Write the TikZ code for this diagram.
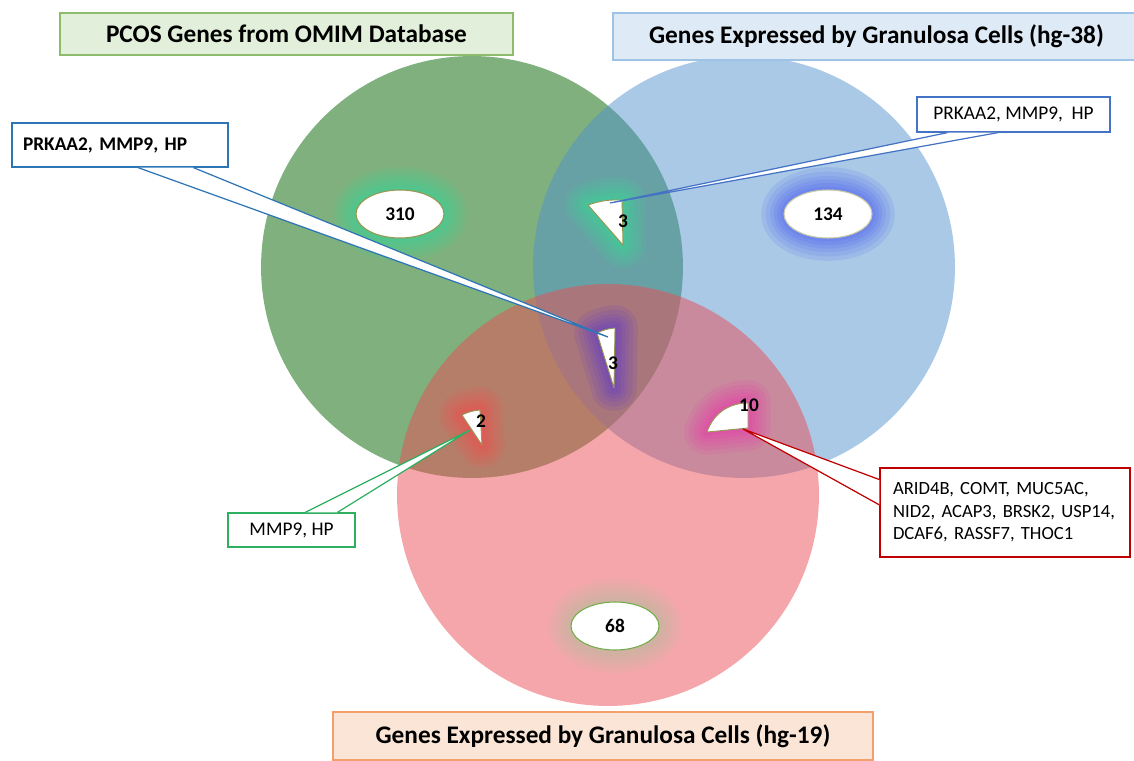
\documentclass[tikz,border=0pt]{standalone}
\usepackage{fontspec}
\setmainfont{Carlito}
\usetikzlibrary{shapes.geometric,calc}

\definecolor{setgreen}{RGB}{127,176,125}
\definecolor{setblue}{RGB}{83,147,205}
\definecolor{setpink}{RGB}{235,77,85}
\definecolor{glowteal}{RGB}{60,212,150}
\definecolor{glowblue}{RGB}{80,100,240}
\definecolor{glowkhaki}{RGB}{190,186,160}
\definecolor{glowpurple}{RGB}{100,60,200}
\definecolor{glowred}{RGB}{240,80,80}
\definecolor{glowpink}{RGB}{230,60,170}
\definecolor{edgeolive}{RGB}{150,150,80}
\definecolor{edgegreen}{RGB}{112,173,71}
\definecolor{lineblue}{RGB}{46,117,182}
\definecolor{lineblue2}{RGB}{68,114,196}
\definecolor{linegreen}{RGB}{46,176,96}
\definecolor{linered}{RGB}{192,0,0}
\definecolor{titlegreen}{RGB}{226,239,218}
\definecolor{titleblue}{RGB}{222,235,247}
\definecolor{titlepeach}{RGB}{251,229,214}
\definecolor{edgeblue}{RGB}{157,195,230}
\definecolor{edgeorange}{RGB}{244,160,110}

\begin{document}
\frenchspacing
\begin{tikzpicture}[x=0.02cm, y=-0.02cm,
  set/.style={circle, fill=#1, minimum size=8.44cm, inner sep=0pt},
  title/.style={rectangle, line width=1pt, inner sep=0pt, font=\fontsize{14.4}{17}\selectfont\bfseries},
  count/.style={ellipse, draw=edgeolive, fill=white, line width=0.6pt, minimum width=1.76cm, minimum height=0.96cm, inner sep=0pt, font=\fontsize{11}{12}\selectfont\bfseries},
  glow/.style={preaction={draw=#1, draw opacity=0.14, line width=26pt, line join=round},
               preaction={draw=#1, draw opacity=0.14, line width=21pt, line join=round},
               preaction={draw=#1, draw opacity=0.14, line width=16pt, line join=round},
               preaction={draw=#1, draw opacity=0.16, line width=12pt, line join=round},
               preaction={draw=#1, draw opacity=0.18, line width=8pt, line join=round},
               preaction={draw=#1, draw opacity=0.2, line width=4pt, line join=round}},
  wedge/.style={draw=edgeolive, fill=white, line width=0.5pt, line join=round},
  num/.style={inner sep=0pt, font=\fontsize{11}{12}\selectfont\bfseries},
  callout/.style={rectangle, draw=#1, fill=white, line width=0.7pt, inner sep=0pt, font=\fontsize{11}{12.8}\selectfont},
  tail/.style={draw=#1, fill=white, line width=0.7pt}
]
\useasboundingbox (0,0) rectangle (1134,761);

% the three sets
\node[set=setgreen] (omim) at (472,267) {};
\node[set=setblue, fill opacity=0.5] (hg38) at (744,267) {};
\node[set=setpink, fill opacity=0.5] (hg19) at (608,495) {};

% counts
\node[count, glow=glowteal] (n310) at (400,214) {310};
\node[count, glow=glowblue, draw=edgeolive!50] (n134) at (828,214) {134};
\node[count, glow=glowkhaki, draw=edgegreen] (n68) at (615,626) {68};

\draw[wedge, glow=glowteal] (623,245) -- (588,205) to[bend left=10] (622,200) -- cycle;
\node[num] (n3top) at (623,221) {3};
\draw[wedge, glow=glowpurple] (614,388) -- (597,333) to[bend left=10] (615,328) -- cycle;
\node[num] (n3mid) at (613,363) {3};
\draw[wedge, glow=glowred] (482,445) -- (462,415) to[bend left=10] (480,410) -- cycle;
\node[num] (n2) at (481,421) {2};
\draw[wedge, glow=glowpink] (748,428) -- (707,432) to[bend left=35] (748,403) -- cycle;
\node[num] (n10) at (749,405) {10};

\coordinate (tiptop) at (610,203);
\coordinate (tipmid) at (608,337);
\coordinate (tiptwo) at (470,430);
\coordinate (tipten) at (743,429);

% titles
\node[title, fill=titlegreen, draw=edgegreen!80, minimum width=9.06cm, minimum height=0.84cm] (omimtitle) at (286.5,34) {PCOS Genes from OMIM Database};
\node[title, fill=titleblue, draw=edgeblue, minimum width=10.54cm, minimum height=0.94cm] (hg38title) at (876.5,36.5) {Genes Expressed by Granulosa Cells (hg-38)};
\node[title, fill=titlepeach, draw=edgeorange, minimum width=10.8cm, minimum height=0.96cm] (hg19title) at (603,736) {Genes Expressed by Granulosa Cells (hg-19)};

% callouts
\node[callout=lineblue, font=\fontsize{11}{12.8}\selectfont\bfseries, text width=3.88cm, inner xsep=0.22cm, align=left, minimum height=0.88cm] (lbox) at (120,145) {PRKAA2, MMP9, HP};
\node[callout=lineblue2, minimum width=3.86cm, minimum height=0.7cm] (rbox) at (1013.5,114.5) {PRKAA2, MMP9,\ \ HP};
\node[callout=linered, font=\fontsize{10.6}{12.8}\selectfont, text width=4.48cm, inner xsep=0.26cm, align=left, minimum height=1.78cm] (redbox) at (1005,512.5) {ARID4B, COMT, MUC5AC,\\NID2, ACAP3, BRSK2, USP14,\\DCAF6, RASSF7, THOC1};
\node[callout=linegreen, minimum width=2.54cm, minimum height=0.68cm] (gbox) at (291.5,530) {MMP9, HP};

\draw[tail=lineblue] ($(lbox.south west)!0.583!(lbox.south east)$) -- (tipmid) -- ($(lbox.south west)!0.838!(lbox.south east)$);
\draw[tail=lineblue2] ($(rbox.south west)!0.16!(rbox.south east)$) -- (tiptop) -- ($(rbox.south west)!0.42!(rbox.south east)$);
\draw[tail=linegreen] ($(gbox.north west)!0.606!(gbox.north east)$) -- (tiptwo) -- ($(gbox.north west)!0.858!(gbox.north east)$);
\draw[tail=linered] ($(redbox.north west)!0.135!(redbox.south west)$) -- (tipten) -- ($(redbox.north west)!0.416!(redbox.south west)$);
\end{tikzpicture}
\end{document}
